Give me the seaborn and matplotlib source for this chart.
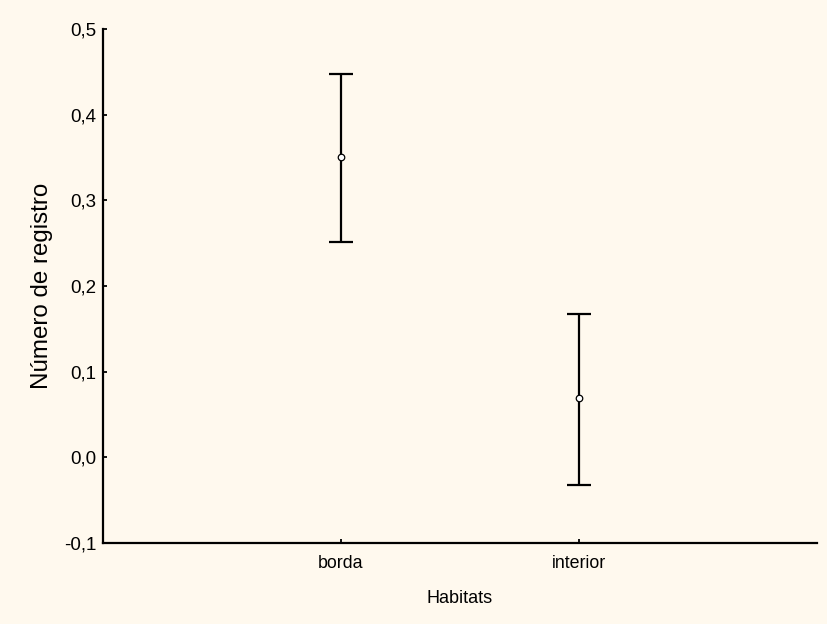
import matplotlib
matplotlib.use("Agg")
import matplotlib.pyplot as plt
import seaborn as sns
import pandas as pd
from matplotlib.ticker import FuncFormatter

# dados
habitats = ["borda", "interior"]
medias = [0.350, 0.069]
limite_inf = [0.251, -0.032]
limite_sup = [0.448, 0.167]

df = pd.DataFrame({"Habitats": habitats, "media": medias})

sns.set_style("ticks")
plt.rcParams["font.family"] = ["Liberation Sans", "DejaVu Sans"]
plt.rcParams["text.color"] = "black"
plt.rcParams["axes.labelcolor"] = "black"
plt.rcParams["xtick.color"] = "black"
plt.rcParams["ytick.color"] = "black"

bg = "#FFF9EE"
fig = plt.figure(figsize=(8.27, 6.24), dpi=100, facecolor=bg)
ax = fig.add_axes([0.1245, 0.130, 0.8635, 0.8235])
ax.set_facecolor(bg)

yerr = [[m - lo for m, lo in zip(medias, limite_inf)],
        [hi - m for m, hi in zip(medias, limite_sup)]]
ax.errorbar(habitats, medias, yerr=yerr, fmt="none", ecolor="black",
            elinewidth=1.6, capsize=8.6, capthick=1.6, zorder=2)
sns.scatterplot(data=df, x="Habitats", y="media", ax=ax, color="white",
                edgecolor="black", linewidth=0.9, s=22, zorder=3)

ax.set_xlim(-1, 2)
ax.set_ylim(-0.1, 0.5)
ax.set_yticks([-0.1, 0.0, 0.1, 0.2, 0.3, 0.4, 0.5])
ax.yaxis.set_major_formatter(FuncFormatter(lambda v, p: f"{v:.1f}".replace(".", ",")))

for s in ["top", "right"]:
    ax.spines[s].set_visible(False)
for s in ["left", "bottom"]:
    ax.spines[s].set_linewidth(1.6)
    ax.spines[s].set_color("black")

ax.tick_params(axis="y", direction="in", length=3, width=1.3, labelsize=13.5, pad=5)
ax.tick_params(axis="x", direction="in", length=3, width=1.3, labelsize=12.8, pad=9)

ax.set_xlabel("Habitats", fontsize=13, labelpad=13)
ax.set_ylabel("Número de registro", fontsize=17.4, labelpad=8)

plt.savefig("out.png", dpi=100, facecolor=bg)
